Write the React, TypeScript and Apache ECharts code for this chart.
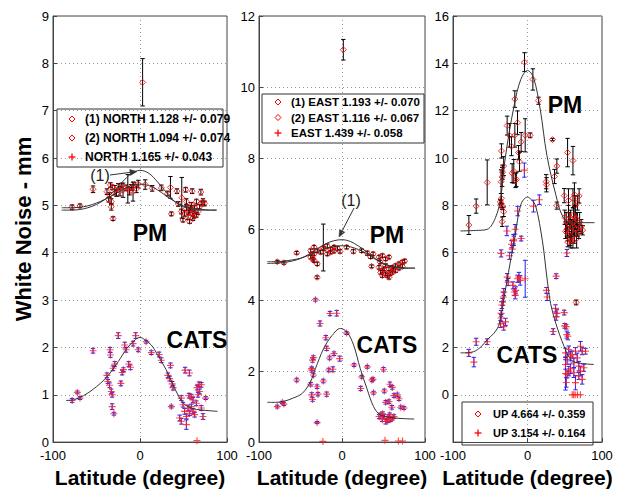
import React, { useEffect, useRef } from "react";
import * as echarts from "echarts";

// ---------- DATA: [latitude, white noise (mm), error] ----------
const N_PM = [
  [-78, 4.96, 0.05], [-69, 4.99, 0.04], [-54, 5.34, 0.07], [-38, 5.29, 0.06], [-36, 5.12, 0.05],
  [-35, 5.22, 0.05], [-33, 5.08, 0.06], [-33, 4.97, 0.07], [-31, 4.72, 0.04], [-34, 5.43, 0.05],
  [-32, 5.38, 0.05], [-29, 5.32, 0.1], [-27, 5.25, 0.06], [-25, 5.4, 0.06], [-23, 5.3, 0.1],
  [-21, 5.42, 0.05], [-19.5, 5.32, 0.15], [-16, 5.37, 0.06], [-14, 5.35, 0.3], [-12, 5.3, 0.08],
  [-10, 5.38, 0.06], [-8, 5.29, 0.2], [-7, 5.43, 0.06], [-4, 5.35, 0.08], [-2, 5.45, 0.08],
  [3, 7.6, 0.5], [6, 5.44, 0.1], [14, 5.36, 0.06], [24.5, 5.37, 0.06], [35, 5.38, 0.23],
  [32, 5.25, 0.05], [36, 4.82, 0.04], [42.5, 5.3, 0.05], [44, 5.03, 0.05], [48, 5.16, 0.43],
  [52.5, 5.33, 0.05], [60, 5.3, 0.05], [70, 5.28, 0.06], [47.5, 4.87, 0.05], [51.3, 4.83, 0.06],
  [53.3, 4.94, 0.05], [55.2, 4.76, 0.06], [57.1, 4.9, 0.05], [59, 5.01, 0.05], [60.9, 4.83, 0.05],
  [62.8, 4.94, 0.06], [64.8, 5.08, 0.05], [66.7, 4.87, 0.06], [68.6, 4.97, 0.05], [70.5, 5.04, 0.05],
  [72.4, 5.08, 0.06], [74.4, 5.04, 0.05], [49.4, 4.69, 0.04], [57.1, 4.66, 0.04], [60.9, 4.73, 0.05],
  [53.3, 5.08, 0.06], [64.8, 4.8, 0.05], [56, 4.85, 0.05], [62, 4.78, 0.05], [58, 4.95, 0.05],
];
const N_CATS = [
  [-78, 0.88, 0.04], [-72, 1.05, 0.03], [-69, 0.93, 0.03], [-54, 1.93, 0.05], [-38, 1.41, 0.05],
  [-37, 1.28, 0.04], [-34.5, 1.95, 0.05], [-34, 1.84, 0.05], [-35, 1.2, 0.05], [-33, 1.07, 0.05],
  [-32, 1.0, 0.05], [-32, 0.75, 0.06], [-30, 0.6, 0.03], [-31, 1.56, 0.05], [-29, 1.65, 0.05],
  [-25, 2.25, 0.06], [-22, 1.24, 0.05], [-20.5, 1.47, 0.05], [-19, 1.53, 0.04], [-17.6, 2.05, 0.06],
  [-16, 1.95, 0.05], [-13, 1.65, 0.05], [-11, 1.58, 0.05], [-8, 2.08, 0.05], [-5, 2.25, 0.06],
  [-2, 1.95, 0.04], [7, 2.12, 0.03], [13, 1.89, 0.04], [22, 1.85, 0.05], [24.5, 1.73, 0.05],
  [32, 1.41, 0.05], [34, 1.34, 0.05], [35, 1.62, 0.05], [36, 0.75, 0.03], [37, 1.23, 0.05],
  [38, 1.15, 0.05], [51.8, 1.52, 0.06], [56.8, 1.46, 0.06], [47.5, 0.93, 0.05], [49.4, 0.79, 0.05],
  [51.3, 0.65, 0.06], [53.3, 0.54, 0.05], [55.2, 0.72, 0.06], [57.1, 0.61, 0.05], [59, 0.75, 0.05],
  [60.9, 0.65, 0.05], [62.8, 0.58, 0.05], [64.8, 0.82, 0.05], [66.7, 1.0, 0.05], [68.6, 1.07, 0.05],
  [70.5, 1.21, 0.05], [70.5, 0.72, 0.05], [72.4, 0.54, 0.06], [75.5, 0.93, 0.03], [45.6, 0.51, 0.06],
  [47.5, 0.44, 0.06], [53.3, 0.37, 0.1], [60.9, 0.89, 0.05], [67.8, 1.22, 0.05], [65.5, 1.15, 0.05],
  [59, 0.96, 0.05], [56.3, 0.98, 0.05], [65.5, 0.03, 0],
];
const E_PM = [
  [-78, 5.08, 0.04], [-70, 5.05, 0.04], [-54.6, 5.33, 0.04], [-37.7, 5.39, 0.05], [-37.7, 5.21, 0.05],
  [-33.7, 5.49, 0.05], [-33.7, 5.3, 0.05], [-33.7, 5.11, 0.05], [-29.8, 5.39, 0.05], [-29.8, 5.02, 0.05],
  [-36, 5.3, 0.04], [-35, 5.15, 0.05], [-30, 4.64, 0.04], [-22.5, 5.48, 0.66], [-25.7, 5.35, 0.05],
  [-21.7, 5.45, 0.05], [-17.7, 5.52, 0.06], [-17.7, 5.3, 0.05], [-13.7, 5.43, 0.05], [-13.7, 5.35, 0.05],
  [-9.6, 5.49, 0.05], [-9.6, 5.38, 0.05], [-5.6, 5.45, 0.06], [-2.4, 5.37, 0.05], [1.6, 11.05, 0.29],
  [5.6, 5.49, 0.05], [13.7, 5.37, 0.05], [23.7, 5.39, 0.05], [30.5, 5.32, 0.06], [34.5, 5.22, 0.05],
  [35.7, 4.95, 0.04], [37.5, 5.3, 0.05], [44.6, 5.21, 0.05], [48.6, 5.25, 0.05], [52.6, 5.16, 0.05],
  [56.6, 5.21, 0.05], [46, 5.07, 0.05], [44.6, 4.92, 0.05], [48.6, 4.83, 0.05], [48.6, 4.69, 0.05],
  [52.6, 4.97, 0.05], [52.6, 4.74, 0.05], [56.6, 4.88, 0.05], [56.6, 4.64, 0.05], [60.6, 4.92, 0.05],
  [60.6, 4.78, 0.05], [64.7, 4.97, 0.05], [64.7, 4.83, 0.05], [68.7, 5.02, 0.05], [68.7, 4.9, 0.05],
  [72.7, 5.07, 0.05], [72.7, 4.95, 0.05], [75.5, 5.1, 0.05], [50.6, 4.88, 0.05], [58, 4.74, 0.05],
  [62, 4.86, 0.05], [46.6, 4.78, 0.05], [54.6, 4.69, 0.05],
];
const E_CATS = [
  [-78, 1.0, 0.04], [-70, 1.07, 0.04], [-72, 1.12, 0.03], [-54.6, 1.75, 0.05], [-37.7, 1.63, 0.05],
  [-36.5, 2.03, 0.06], [-36.5, 2.07, 0.05], [-35.5, 2.31, 0.06], [-34.5, 2.38, 0.05], [-36.5, 1.33, 0.06],
  [-35.5, 1.2, 0.05], [-34.4, 1.89, 0.05], [-32, 4.01, 0.04], [-30, 0.55, 0.03], [-30, 1.56, 0.05],
  [-29, 1.35, 0.05], [-26.5, 3.34, 0.07], [-22.5, 1.72, 0.05], [-18.5, 1.35, 0.06], [-19.5, 2.94, 0.06],
  [-18.5, 2.64, 0.06], [-15, 2.37, 0.05], [-14.5, 3.62, 0.06], [-6.4, 3.63, 0.08], [-16, 2.03, 0.05],
  [-11, 2.05, 0.07], [-9.6, 2.49, 0.05], [-2.8, 2.35, 0.07], [5.6, 3.07, 0.04], [14.5, 2.17, 0.04],
  [22.5, 1.51, 0.06], [23.7, 1.84, 0.04], [30.5, 2.12, 0.04], [36, 1.75, 0.05], [37.5, 1.77, 0.04],
  [38, 1.39, 0.04], [50, 2.05, 0.05], [51, 1.44, 0.05], [57.7, 1.63, 0.06], [60.6, 1.54, 0.05],
  [62.6, 1.31, 0.05], [66.7, 1.33, 0.05], [68.7, 1.22, 0.05], [52.6, 1.12, 0.05], [56.6, 1.14, 0.05],
  [70.7, 0.98, 0.04], [74.7, 0.96, 0.04], [60, 0.98, 0.05], [44.6, 0.72, 0.06], [46.6, 0.77, 0.05],
  [48.6, 0.63, 0.05], [50.6, 0.72, 0.05], [52.6, 0.58, 0.07], [54.6, 0.67, 0.05], [56.6, 0.72, 0.05],
  [58.6, 0.63, 0.05], [60.6, 0.67, 0.05], [62.6, 0.72, 0.05], [49, 0.8, 0.05], [55, 0.6, 0.05],
  [57.5, 0.77, 0.05], [51.8, 0.05, 0], [67.9, 0.03, 0], [73, 0.03, 0], [-23, 0.02, 0],
];
const U_PM = [
  [-78.7, 7.17, 0.4], [-68.9, 7.97, 0.3], [-54.1, 8.97, 0.95], [-36.5, 8.15, 0.1], [-35.5, 8.05, 0.15],
  [-35, 8.3, 0.2], [-34, 7.95, 0.12], [-35.5, 9.0, 0.5], [-34, 9.2, 0.4], [-33.5, 9.4, 0.3],
  [-34, 7.31, 0.2], [-35, 10.3, 0.3], [-32, 7.73, 0.2], [-32, 9.66, 0.4], [-27.3, 11.37, 0.4],
  [-24.2, 10.96, 0.5], [-21.5, 10.5, 0.4], [-20.6, 9.36, 0.4], [-18.4, 9.44, 0.5], [-17, 12.49, 0.35],
  [-17, 10.96, 0.5], [-16, 9.05, 0.3], [-15, 9.1, 0.3], [-13.4, 11.49, 0.5], [-12, 10.23, 0.3],
  [-10.7, 9.84, 0.4], [-8.5, 10.68, 0.4], [-3.1, 10.96, 0.7], [3.6, 10.96, 0.1], [-4, 14.05, 0.4],
  [7.2, 13.32, 0.45], [14.8, 12.42, 0.15], [33.6, 10.78, 0.05], [25, 9.0, 0.3], [25.5, 8.87, 0.3],
  [36.3, 9.22, 0.3], [39.4, 9.66, 0.3], [39.4, 7.99, 0.15], [49.3, 8.41, 0.3], [53.8, 10.23, 0.6],
  [61, 9.89, 0.6], [55, 8.2, 0.5], [61, 8.3, 0.4], [63, 8.45, 0.5], [64, 8.0, 0.4],
  [67, 8.1, 0.3], [69.3, 8.4, 0.3], [65.3, 3.9, 0.1], [50, 7.5, 0.3], [52, 7.3, 0.4],
  [53, 7.0, 0.3], [54, 6.8, 0.3], [55, 7.6, 0.4], [56, 7.2, 0.5], [57, 6.6, 0.3],
  [58, 7.4, 0.4], [59, 6.9, 0.5], [60, 7.1, 0.3], [61, 6.5, 0.3], [62, 7.3, 0.6],
  [63, 6.8, 0.4], [64, 7.5, 0.5], [65, 7.0, 0.3], [66, 6.6, 0.4], [67, 7.2, 0.5],
  [69, 6.9, 0.3], [70, 7.3, 0.4], [72, 7.1, 0.3], [74, 6.95, 0.2], [54, 6.45, 0.2],
  [58, 6.5, 0.3], [51, 6.9, 0.3], [62, 7.6, 0.3], [66, 7.4, 0.3],
];
const U_CATS = [
  [-78.8, 1.77, 0.15], [-72, 1.38, 0.2], [-68.9, 2.24, 0.15], [-54.1, 2.24, 0.12], [-36.2, 2.99, 0.15],
  [-35.4, 3.44, 0.12], [-35.4, 3.24, 0.15], [-34.5, 3.79, 0.15], [-33.5, 3.92, 0.15], [-32.5, 4.13, 0.2],
  [-31.8, 4.34, 0.15], [-32, 2.88, 0.15], [-29.5, 3.08, 0.15], [-35.4, 5.97, 0.15], [-27.3, 4.97, 0.15],
  [-26, 4.76, 0.15], [-24.2, 5.87, 0.15], [-21.5, 6.36, 0.15], [-20.5, 6.15, 0.15], [-18.4, 6.5, 0.2],
  [-19.5, 4.62, 0.15], [-17.5, 4.34, 0.15], [-16.5, 4.2, 0.15], [-15.8, 4.41, 0.15], [-13.4, 4.9, 0.15],
  [-11.5, 4.97, 0.2], [-9.8, 4.83, 0.2], [-3.1, 4.9, 0.78], [-8.5, 6.6, 0.1], [-27.7, 6.92, 0.2],
  [-18.8, 6.57, 0.2], [-16.6, 6.99, 0.2], [-13.2, 7.76, 0.2], [-4.2, 9.49, 0.3], [8.1, 7.97, 0.25],
  [15.9, 8.24, 0.2], [25.5, 4.41, 0.12], [26.4, 4.13, 0.15], [34.4, 2.67, 0.12], [38.5, 5.01, 0.1],
  [37.6, 3.65, 0.15], [38.5, 3.3, 0.15], [39.4, 3.44, 0.15], [49.3, 3.47, 0.1], [49.8, 2.91, 0.1],
  [52, 2.88, 0.1], [52.8, 2.54, 0.15], [54.2, 2.47, 0.15], [52.8, 5.99, 0.15], [51, 1.77, 0.2],
  [53.2, 1.49, 0.2], [55.4, 1.91, 0.15], [57.7, 1.63, 0.2], [59.9, 1.7, 0.15], [62.2, 1.35, 0.2],
  [64.4, 1.84, 0.15], [66.7, 1.56, 0.2], [68.9, 1.21, 0.2], [71.1, 2.05, 0.2], [73.4, 1.84, 0.15],
  [75.6, 1.14, 0.15], [77.9, 1.84, 0.12], [51, 1.28, 0.2], [51, 0.9, 0.7], [52, 0.52, 0.2],
  [53.2, 0.86, 0.15], [55.4, 1.0, 0.2], [57.7, 1.1, 0.2], [62.2, 0.93, 0.2], [64.4, 0.51, 0.3],
  [68.9, 0.79, 0.15], [71.1, 1.0, 0.2], [73.4, 0.65, 0.2], [60, 0, 0], [62, 0, 0],
  [64, 0, 0], [67, 0, 0], [71, 0, 0],
];

// fitted curves: [latitude, value]
const N_PM_FIT1 = [[-90, 4.9], [-80, 4.9], [-70, 4.91], [-60, 4.95], [-50, 5.02], [-40, 5.13], [-30, 5.3], [-20, 5.5], [-10, 5.67], [0, 5.74], [10, 5.68], [20, 5.5], [30, 5.28], [40, 5.08], [50, 4.97], [60, 4.92], [70, 4.9], [80, 4.9], [88, 4.9]];
const N_PM_FIT2 = [[-90, 4.95], [-80, 4.95], [-70, 4.96], [-60, 4.99], [-50, 5.05], [-40, 5.13], [-30, 5.23], [-20, 5.33], [-10, 5.42], [0, 5.45], [10, 5.42], [20, 5.33], [30, 5.2], [40, 5.08], [50, 4.99], [60, 4.94], [70, 4.92], [80, 4.9], [88, 4.9]];
const N_CATS_FIT = [[-85, 0.88], [-75, 0.9], [-65, 0.98], [-55, 1.1], [-45, 1.25], [-36, 1.42], [-25, 1.7], [-15, 1.98], [-5, 2.17], [0, 2.21], [5, 2.17], [13, 2.05], [20, 1.85], [27, 1.63], [33, 1.42], [38, 1.21], [45, 0.95], [50, 0.82], [55, 0.75], [65, 0.69], [75, 0.67], [89, 0.65]];
const E_PM_FIT1 = [[-90, 5.03], [-80, 5.04], [-70, 5.06], [-60, 5.1], [-50, 5.17], [-40, 5.29], [-30, 5.44], [-20, 5.58], [-10, 5.67], [0, 5.7], [10, 5.65], [20, 5.52], [30, 5.35], [40, 5.17], [50, 5.02], [60, 4.94], [70, 4.91], [80, 4.9], [88, 4.9]];
const E_PM_FIT2 = [[-90, 5.08], [-80, 5.08], [-70, 5.1], [-60, 5.13], [-50, 5.18], [-40, 5.26], [-30, 5.36], [-20, 5.45], [-10, 5.51], [0, 5.53], [10, 5.5], [20, 5.42], [30, 5.3], [40, 5.15], [50, 5.03], [60, 4.95], [70, 4.91], [80, 4.9], [88, 4.9]];
const E_CATS_FIT = [[-90, 1.12], [-80, 1.12], [-70, 1.15], [-60, 1.23], [-48, 1.37], [-38, 1.7], [-32, 2.07], [-22, 2.64], [-12, 3.0], [-2, 3.2], [6, 3.1], [14, 2.73], [22, 2.07], [30, 1.51], [38, 1.0], [46, 0.77], [60, 0.69], [75, 0.66], [87, 0.65]];
const U_PM_FIT = [[-90, 6.92], [-70, 6.94], [-54, 6.99], [-43, 7.48], [-36, 8.31], [-30, 9.98], [-18, 12.21], [-9, 13.32], [0, 13.7], [8, 13.4], [17, 12.07], [26, 10.12], [38, 8.45], [47, 7.55], [58, 7.27], [90, 7.27]];
const U_CATS_FIT = [[-90, 1.77], [-80, 1.78], [-70, 1.85], [-60, 2.1], [-54, 2.33], [-45, 2.6], [-38, 2.98], [-29, 4.55], [-22, 5.8], [-17, 6.64], [-9, 8.03], [0, 8.35], [5, 8.25], [11, 7.97], [20, 6.5], [26, 4.97], [31, 3.85], [38, 3.02], [49, 2.05], [58, 1.49], [67, 1.35], [89, 1.28]];

const X_TICKS = [-100, 0, 100];
const Y_RANGES = [[0, 9, 1], [0, 12, 2], [-2, 16, 2]];
const LEGEND_N = ["(1) NORTH 1.128 +/- 0.079", "(2) NORTH 1.094 +/- 0.074", "NORTH 1.165 +/- 0.043"];
const LEGEND_E = ["(1) EAST 1.193 +/- 0.070", "(2) EAST 1.116 +/- 0.067", "EAST 1.439 +/- 0.058"];
const LEGEND_U = ["UP 4.664 +/- 0.359", "UP 3.154 +/- 0.164"];

const FONT = "'Liberation Sans', Arial, Helvetica, sans-serif";
const PLUS = "path://M4.2,0H5.8V10H4.2Z M0,4.2H10V5.8H0Z";

function errBar(color: string) {
  return (params: any, api: any) => {
    const x = api.value(0), y = api.value(1), e = api.value(2);
    if (!e) return { type: "group", children: [] };
    const hi = api.coord([x, y + e]);
    const lo = api.coord([x, y - e]);
    const w = 2.2;
    const st = { stroke: color, lineWidth: 1 };
    return {
      type: "group",
      children: [
        { type: "line", shape: { x1: hi[0], y1: hi[1], x2: lo[0], y2: lo[1] }, style: st },
        { type: "line", shape: { x1: hi[0] - w, y1: hi[1], x2: hi[0] + w, y2: hi[1] }, style: st },
        { type: "line", shape: { x1: lo[0] - w, y1: lo[1], x2: lo[0] + w, y2: lo[1] }, style: st },
      ],
    };
  };
}

function panelSeries(i: number, pm: number[][], cats: number[][], fits: number[][][]) {
  const common = { xAxisIndex: i, yAxisIndex: i };
  return [
    { ...common, type: "custom", data: pm, renderItem: errBar("#000000"), encode: { x: 0, y: 1 }, silent: true, z: 2 },
    { ...common, type: "custom", data: cats, renderItem: errBar("#1f1fff"), encode: { x: 0, y: 1 }, silent: true, z: 2 },
    {
      ...common, type: "scatter", data: pm.map((d) => [d[0], d[1]]), symbol: "diamond", symbolSize: 6,
      itemStyle: { color: "rgba(0,0,0,0)", borderColor: "#ff0000", borderWidth: 1 }, z: 3,
    },
    {
      ...common, type: "scatter", data: cats.map((d) => [d[0], d[1]]), symbol: PLUS, symbolSize: 7,
      itemStyle: { color: "#ff1a1a" }, z: 3,
    },
    ...fits.map((f) => ({
      ...common, type: "line", data: f, showSymbol: false, smooth: 0.35,
      lineStyle: { color: "#333333", width: 1 }, z: 4,
    })),
  ];
}

function legendBox(x: number, y: number, w: number, h: number, rows: number[], symX: number, txtX: number, labels: string[], syms: string[], fs: number) {
  const children: any[] = [
    { type: "rect", shape: { x, y, width: w, height: h }, style: { fill: "#ffffff", stroke: "#333333", lineWidth: 1 } },
  ];
  labels.forEach((lab, k) => {
    const cy = rows[k];
    if (syms[k] === "d") {
      children.push({
        type: "polygon",
        shape: { points: [[symX, cy - 3], [symX + 3, cy], [symX, cy + 3], [symX - 3, cy]] },
        style: { fill: "none", stroke: "#ff0000", lineWidth: 1 },
      });
    } else {
      children.push({ type: "line", shape: { x1: symX - 3.5, y1: cy, x2: symX + 3.5, y2: cy }, style: { stroke: "#ff0000", lineWidth: 1.3 } });
      children.push({ type: "line", shape: { x1: symX, y1: cy - 3.5, x2: symX, y2: cy + 3.5 }, style: { stroke: "#ff0000", lineWidth: 1.3 } });
    }
    children.push({
      type: "text", x: txtX, y: cy,
      style: { text: lab, font: `bold ${fs}px ${FONT}`, fill: "#000", textVerticalAlign: "middle", textAlign: "left" },
    });
  });
  return { type: "group", children, z: 100 };
}

function bigLabel(text: string, x: number, y: number) {
  return {
    type: "text", x, y, z: 100,
    style: { text, font: `bold 23px ${FONT}`, fill: "#000", textAlign: "center", textVerticalAlign: "middle" },
  };
}

function arrow(x1: number, y1: number, x2: number, y2: number) {
  const ang = Math.atan2(y2 - y1, x2 - x1);
  const L = 7, W = 3;
  const bx = x2 - L * Math.cos(ang), by = y2 - L * Math.sin(ang);
  const px = -Math.sin(ang) * W, py = Math.cos(ang) * W;
  return {
    type: "group", z: 100,
    children: [
      { type: "line", shape: { x1, y1, x2: bx, y2: by }, style: { stroke: "#333", lineWidth: 1 } },
      { type: "polygon", shape: { points: [[x2, y2], [bx + px, by + py], [bx - px, by - py]] }, style: { fill: "#333", stroke: "#333", lineWidth: 0.5 } },
    ],
  };
}

export default function App() {
  const ref = useRef<HTMLDivElement>(null);
  useEffect(() => {
    if (!ref.current) return;
    const chart = echarts.init(ref.current, undefined, { renderer: "svg" });
    const grids = [
      { left: 53, top: 16, width: 174, height: 428 },
      { left: 259, top: 16, width: 166, height: 428 },
      { left: 453, top: 16, width: 149, height: 431 },
    ].map((g) => ({ ...g, show: true, borderColor: "#444", borderWidth: 1, backgroundColor: "#fff" }));

    const splitStyle = { show: true, lineStyle: { color: "#9a9a9a", type: [1, 3], width: 1 } };
    const xAxis = [0, 1, 2].map((i) => ({
      type: "value", gridIndex: i, min: X_TICKS[0], max: X_TICKS[2], interval: 100,
      axisLine: { show: true, onZero: false, lineStyle: { color: "#444" } },
      axisTick: { show: true, inside: true, length: 4, lineStyle: { color: "#444" } },
      axisLabel: { fontSize: 13, color: "#000", fontFamily: FONT, margin: 7 },
      splitLine: splitStyle,
      name: "Latitude (degree)", nameLocation: "middle", nameGap: 24,
      nameTextStyle: { fontSize: 21, fontWeight: "bold", color: "#000", fontFamily: FONT },
    }));
    const yAxis = [0, 1, 2].map((i) => ({
      type: "value", gridIndex: i, min: Y_RANGES[i][0], max: Y_RANGES[i][1], interval: Y_RANGES[i][2],
      axisLine: { show: true, onZero: false, lineStyle: { color: "#444" } },
      axisTick: { show: true, inside: true, length: 4, lineStyle: { color: "#444" } },
      axisLabel: {
        fontSize: 13, color: "#000", fontFamily: FONT, margin: 4,
        formatter: (v: number) => (v < 0 ? "" : String(v)),
      },
      splitLine: splitStyle,
      ...(i === 0
        ? {
            name: "White Noise - mm", nameLocation: "middle", nameGap: 19, nameRotate: 90,
            nameTextStyle: { fontSize: 22, fontWeight: "bold", color: "#000", fontFamily: FONT },
          }
        : {}),
    }));

    const series = [
      ...panelSeries(0, N_PM, N_CATS, [N_PM_FIT1, N_PM_FIT2, N_CATS_FIT]),
      ...panelSeries(1, E_PM, E_CATS, [E_PM_FIT1, E_PM_FIT2, E_CATS_FIT]),
      ...panelSeries(2, U_PM, U_CATS, [U_PM_FIT, U_CATS_FIT]),
    ];

    const graphic = [
      legendBox(57, 109, 166, 58, [119, 138, 157], 72, 85, LEGEND_N, ["d", "d", "p"], 12),
      legendBox(262, 94, 162, 49, [102, 117.5, 133], 278, 291, LEGEND_E, ["d", "d", "p"], 11.5),
      legendBox(462, 402, 131, 43, [414, 433], 478, 493, LEGEND_U, ["d", "p"], 11),
      bigLabel("PM", 150, 233),
      bigLabel("CATS", 197, 340),
      bigLabel("PM", 387, 235),
      bigLabel("CATS", 387, 345),
      bigLabel("PM", 565, 105),
      bigLabel("CATS", 527, 355),
      { type: "text", x: 100, y: 175, z: 100, style: { text: "(1)", font: `16px ${FONT}`, fill: "#222", textAlign: "center", textVerticalAlign: "middle" } },
      { type: "text", x: 351, y: 200, z: 100, style: { text: "(1)", font: `16px ${FONT}`, fill: "#222", textAlign: "center", textVerticalAlign: "middle" } },
      arrow(110, 175, 137, 171.5),
      arrow(354, 208, 339, 237),
    ];

    chart.setOption({
      animation: false,
      backgroundColor: "#ffffff",
      grid: grids,
      xAxis,
      yAxis,
      series,
      graphic,
    });
    return () => chart.dispose();
  }, []);
  return <div ref={ref} style={{ position: "fixed", left: 0, top: 0, width: 629, height: 493 }} />;
}
